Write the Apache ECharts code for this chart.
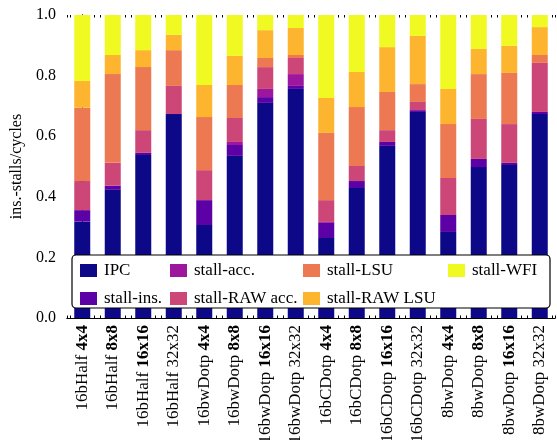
<!DOCTYPE html>
<html>
<head>
<meta charset="utf-8">
<script src="https://cdn.jsdelivr.net/npm/echarts@6/dist/echarts.min.js"></script>
<style>html,body{margin:0;padding:0;background:#fff;}#c{width:557px;height:440px;}</style>
</head>
<body>
<div id="c"></div>
<script>
var categories = ['16bHalf 4x4','16bHalf 8x8','16bHalf 16x16','16bHalf 32x32',
  '16bwDotp 4x4','16bwDotp 8x8','16bwDotp 16x16','16bwDotp 32x32',
  '16bCDotp 4x4','16bCDotp 8x8','16bCDotp 16x16','16bCDotp 32x32',
  '8bwDotp 4x4','8bwDotp 8x8','8bwDotp 16x16','8bwDotp 32x32'];
var ipc       = [0.318,0.423,0.538,0.673,0.307,0.535,0.710,0.756,0.264,0.429,0.568,0.680,0.284,0.498,0.505,0.673];
var stallIns  = [0.038,0.014,0.007,0.000,0.082,0.036,0.019,0.010,0.050,0.023,0.013,0.006,0.056,0.027,0.007,0.007];
var stallAcc  = [0.000,0.000,0.000,0.000,0.000,0.010,0.027,0.039,0.003,0.000,0.000,0.000,0.000,0.000,0.000,0.000];
var stallRawAcc = [0.096,0.075,0.075,0.093,0.099,0.079,0.072,0.053,0.072,0.050,0.039,0.027,0.122,0.132,0.128,0.162];
var stallLsu  = [0.242,0.293,0.208,0.118,0.175,0.109,0.030,0.010,0.222,0.194,0.126,0.059,0.178,0.148,0.169,0.026];
var stallRawLsu = [0.088,0.063,0.056,0.051,0.106,0.096,0.092,0.089,0.115,0.116,0.148,0.159,0.116,0.083,0.089,0.092];
var stallWfi  = [0.218,0.132,0.116,0.065,0.231,0.135,0.050,0.043,0.274,0.188,0.106,0.069,0.244,0.112,0.102,0.040];
var yTicks = ['0.0','0.2','0.4','0.6','0.8','1.0'];

var FONT = 'Liberation Serif';
var seriesDefs = [
  {name:'IPC', data:ipc, color:'#0d0887'},
  {name:'stall-ins.', data:stallIns, color:'#5c01a6'},
  {name:'stall-acc.', data:stallAcc, color:'#9c179e'},
  {name:'stall-RAW acc.', data:stallRawAcc, color:'#cc4778'},
  {name:'stall-LSU', data:stallLsu, color:'#ed7953'},
  {name:'stall-RAW LSU', data:stallRawLsu, color:'#fdb42f'},
  {name:'stall-WFI', data:stallWfi, color:'#f0f921'}
];

var chart = echarts.init(document.getElementById('c'), null, {renderer:'canvas'});

function legendCol(left, names) {
  return {
    orient:'vertical', left:left, top:262, padding:0,
    itemWidth:17, itemHeight:13, itemGap:11, icon:'rect',
    selectedMode:false, z:8,
    textStyle:{fontFamily:FONT, fontSize:17, color:'#000', padding:[0,0,0,2]},
    data:names
  };
}

var lineStyle = {color:'#000', width:1};
var option = {
  animation:false,
  backgroundColor:'#fff',
  grid:{left:67, right:2, top:15, bottom:122, containLabel:false, outerBoundsMode:'none'},
  legend:[
    legendCol(80, ['IPC','stall-ins.']),
    legendCol(170, ['stall-acc.','stall-RAW acc.']),
    legendCol(303, ['stall-LSU','stall-RAW LSU']),
    legendCol(448, ['stall-WFI'])
  ],
  graphic:[{
    type:'rect', z:7,
    shape:{x:72, y:255, width:478, height:53, r:4},
    style:{fill:'#fff', stroke:'#000', lineWidth:1.2}
  }],
  xAxis:[
    {type:'category', position:'bottom', data:categories,
     axisLine:{lineStyle:lineStyle},
     axisTick:{inside:true, alignWithLabel:true, length:5, lineStyle:lineStyle},
     axisLabel:{rotate:90, margin:7, color:'#000', fontFamily:FONT, fontSize:17,
       formatter:function(v){
         var p = v.split(' ');
         var sz = p[1];
         return '{r|' + p[0] + ' }' + (sz === '32x32' ? '{r|' + sz + '}' : '{b|' + sz + '}');
       },
       rich:{r:{fontFamily:FONT, fontSize:17, color:'#000'},
             b:{fontFamily:FONT, fontSize:17, fontWeight:'bold', color:'#000'}}},
     splitLine:{show:false}},
    {type:'category', position:'top', data:categories,
     axisLine:{lineStyle:lineStyle},
     axisTick:{inside:true, alignWithLabel:true, length:5, lineStyle:lineStyle},
     axisLabel:{show:false}, splitLine:{show:false}},
    {type:'value', position:'bottom', min:-0.5, max:15.5, splitNumber:80,
     axisLine:{show:false},
     axisTick:{inside:true, length:2.5, lineStyle:lineStyle},
     axisLabel:{show:false}, splitLine:{show:false}},
    {type:'value', position:'top', min:-0.5, max:15.5, splitNumber:80,
     axisLine:{show:false},
     axisTick:{inside:true, length:2.5, lineStyle:lineStyle},
     axisLabel:{show:false}, splitLine:{show:false}}
  ],
  yAxis:[
    {type:'value', position:'left', min:0, max:1, interval:0.2,
     name:'ins.-stalls/cycles', nameLocation:'middle', nameGap:40,
     nameTextStyle:{fontFamily:FONT, fontSize:16, color:'#000'},
     axisLine:{show:true, lineStyle:lineStyle},
     axisTick:{inside:true, length:5, lineStyle:lineStyle},
     minorTick:{show:true, splitNumber:4, length:3, lineStyle:lineStyle},
     axisLabel:{margin:11, color:'#000', fontFamily:FONT, fontSize:16,
       formatter:function(v){ return yTicks[Math.round(v/0.2)]; }},
     splitLine:{show:false}, minorSplitLine:{show:false}},
    {type:'value', position:'right', min:0, max:1, interval:0.2,
     axisLine:{show:true, lineStyle:lineStyle},
     axisTick:{inside:true, length:5, lineStyle:lineStyle},
     minorTick:{show:true, splitNumber:4, length:3, lineStyle:lineStyle},
     axisLabel:{show:false},
     splitLine:{show:false}, minorSplitLine:{show:false}}
  ],
  series: seriesDefs.map(function(s){
    return {name:s.name, type:'bar', stack:'total', xAxisIndex:0, yAxisIndex:0,
      barWidth:16, data:s.data, itemStyle:{color:s.color}, z:2};
  })
};
chart.setOption(option);
</script>
</body>
</html>
